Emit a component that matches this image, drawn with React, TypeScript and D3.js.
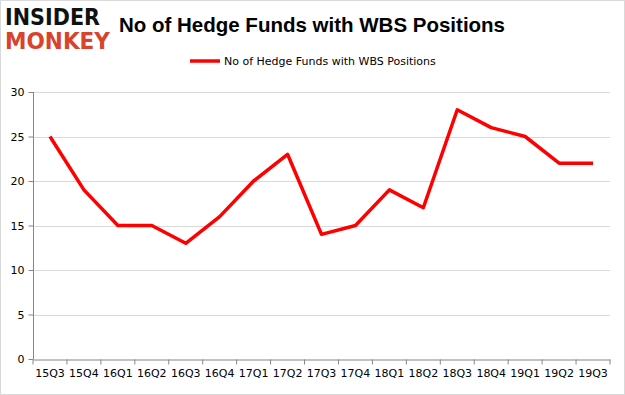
import { useEffect, useRef } from 'react';
import * as d3 from 'd3';

const quarters = ["15Q3", "15Q4", "16Q1", "16Q2", "16Q3", "16Q4", "17Q1", "17Q2", "17Q3", "17Q4", "18Q1", "18Q2", "18Q3", "18Q4", "19Q1", "19Q2", "19Q3"];
const funds = [25, 19, 15, 15, 13, 16, 20, 23, 14, 15, 19, 17, 28, 26, 25, 22, 22];
const yTicks = [0, 5, 10, 15, 20, 25, 30];
const seriesName = "No of Hedge Funds with WBS Positions";

const W = 625;
const H = 395;

const App = () => {
  const svgRef = useRef(null);

  useEffect(() => {
    if (!svgRef.current) return;
    const svg = d3.select(svgRef.current);
    svg.selectAll("*").remove();

    const margin = { top: 92, right: 15, bottom: 36, left: 33 };

    const x = d3.scaleBand()
      .domain(quarters)
      .range([margin.left, W - margin.right]);

    const y = d3.scaleLinear()
      .domain([0, 30])
      .range([H - margin.bottom, margin.top]);

    // chart border
    svg.append("rect")
      .attr("x", 0.5).attr("y", 0.5)
      .attr("width", W - 1).attr("height", H - 1)
      .attr("fill", "#fff").attr("stroke", "#d9d9d9");

    // gridlines
    svg.append("g")
      .selectAll("line")
      .data(yTicks.filter(d => d > 0))
      .enter().append("line")
      .attr("x1", margin.left).attr("x2", W - margin.right)
      .attr("y1", d => Math.round(y(d)) + 0.5).attr("y2", d => Math.round(y(d)) + 0.5)
      .attr("stroke", "#d9d9d9");

    // y axis
    const yAxis = svg.append("g")
      .attr("transform", `translate(${margin.left + 0.5},0)`)
      .call(d3.axisLeft(y).tickValues(yTicks).tickSize(5).tickPadding(4));
    yAxis.select(".domain").attr("stroke", "#868686").attr("d", `M0,${y(30)}V${y(0)}`);
    yAxis.selectAll(".tick line").attr("stroke", "#868686");
    yAxis.selectAll("text").attr("font-family", "'DejaVu Sans', sans-serif").attr("font-size", 11).attr("fill", "#000");

    // x axis
    const xAxis = svg.append("g")
      .attr("transform", `translate(0,${Math.round(y(0)) + 0.5})`)
      .call(d3.axisBottom(x).tickSize(0).tickPadding(10));
    xAxis.select(".domain").attr("stroke", "#868686");
    xAxis.selectAll("text").attr("font-family", "'DejaVu Sans', sans-serif").attr("font-size", 11).attr("fill", "#000");
    xAxis.selectAll(".xt")
      .data(quarters.concat(["end"]))
      .enter().append("line")
      .attr("class", "xt")
      .attr("x1", (d, i) => margin.left + i * x.bandwidth())
      .attr("x2", (d, i) => margin.left + i * x.bandwidth())
      .attr("y1", 0).attr("y2", 5)
      .attr("stroke", "#868686");

    // series line
    const line = d3.line<number>()
      .x((d, i) => x(quarters[i])! + x.bandwidth() / 2)
      .y(d => y(d));
    svg.append("path")
      .datum(funds)
      .attr("d", line)
      .attr("fill", "none")
      .attr("stroke", "#ff0000")
      .attr("stroke-width", 3.5)
      .attr("stroke-linejoin", "round");

    // title
    svg.append("text")
      .attr("x", 312).attr("y", 32)
      .attr("text-anchor", "middle")
      .attr("font-family", "'Liberation Sans', Arial, sans-serif")
      .attr("font-weight", "bold")
      .attr("font-size", 20.5)
      .attr("fill", "#000")
      .text(seriesName);

    // legend
    svg.append("line")
      .attr("x1", 190).attr("x2", 220)
      .attr("y1", 61).attr("y2", 61)
      .attr("stroke", "#ff0000").attr("stroke-width", 3.5);
    svg.append("text")
      .attr("x", 224).attr("y", 65)
      .attr("font-family", "'DejaVu Sans', sans-serif")
      .attr("font-size", 11)
      .attr("fill", "#000")
      .text(seriesName);

    // logo
    svg.append("text")
      .attr("x", 5).attr("y", 25)
      .attr("font-family", "'DejaVu Sans', sans-serif")
      .attr("font-weight", "bold")
      .attr("font-size", 23)
      .attr("textLength", 95)
      .attr("lengthAdjust", "spacingAndGlyphs")
      .attr("fill", "#111")
      .text("INSIDER");
    svg.append("text")
      .attr("x", 5).attr("y", 49)
      .attr("font-family", "'DejaVu Sans', sans-serif")
      .attr("font-weight", "bold")
      .attr("font-size", 23)
      .attr("textLength", 105)
      .attr("lengthAdjust", "spacingAndGlyphs")
      .attr("fill", "#d9432c")
      .text("MONKEY");
  }, []);

  return (
    <svg ref={svgRef} width={W} height={H} style={{ display: "block", position: "absolute", left: 0, top: 0 }}></svg>
  );
};

export default App;
